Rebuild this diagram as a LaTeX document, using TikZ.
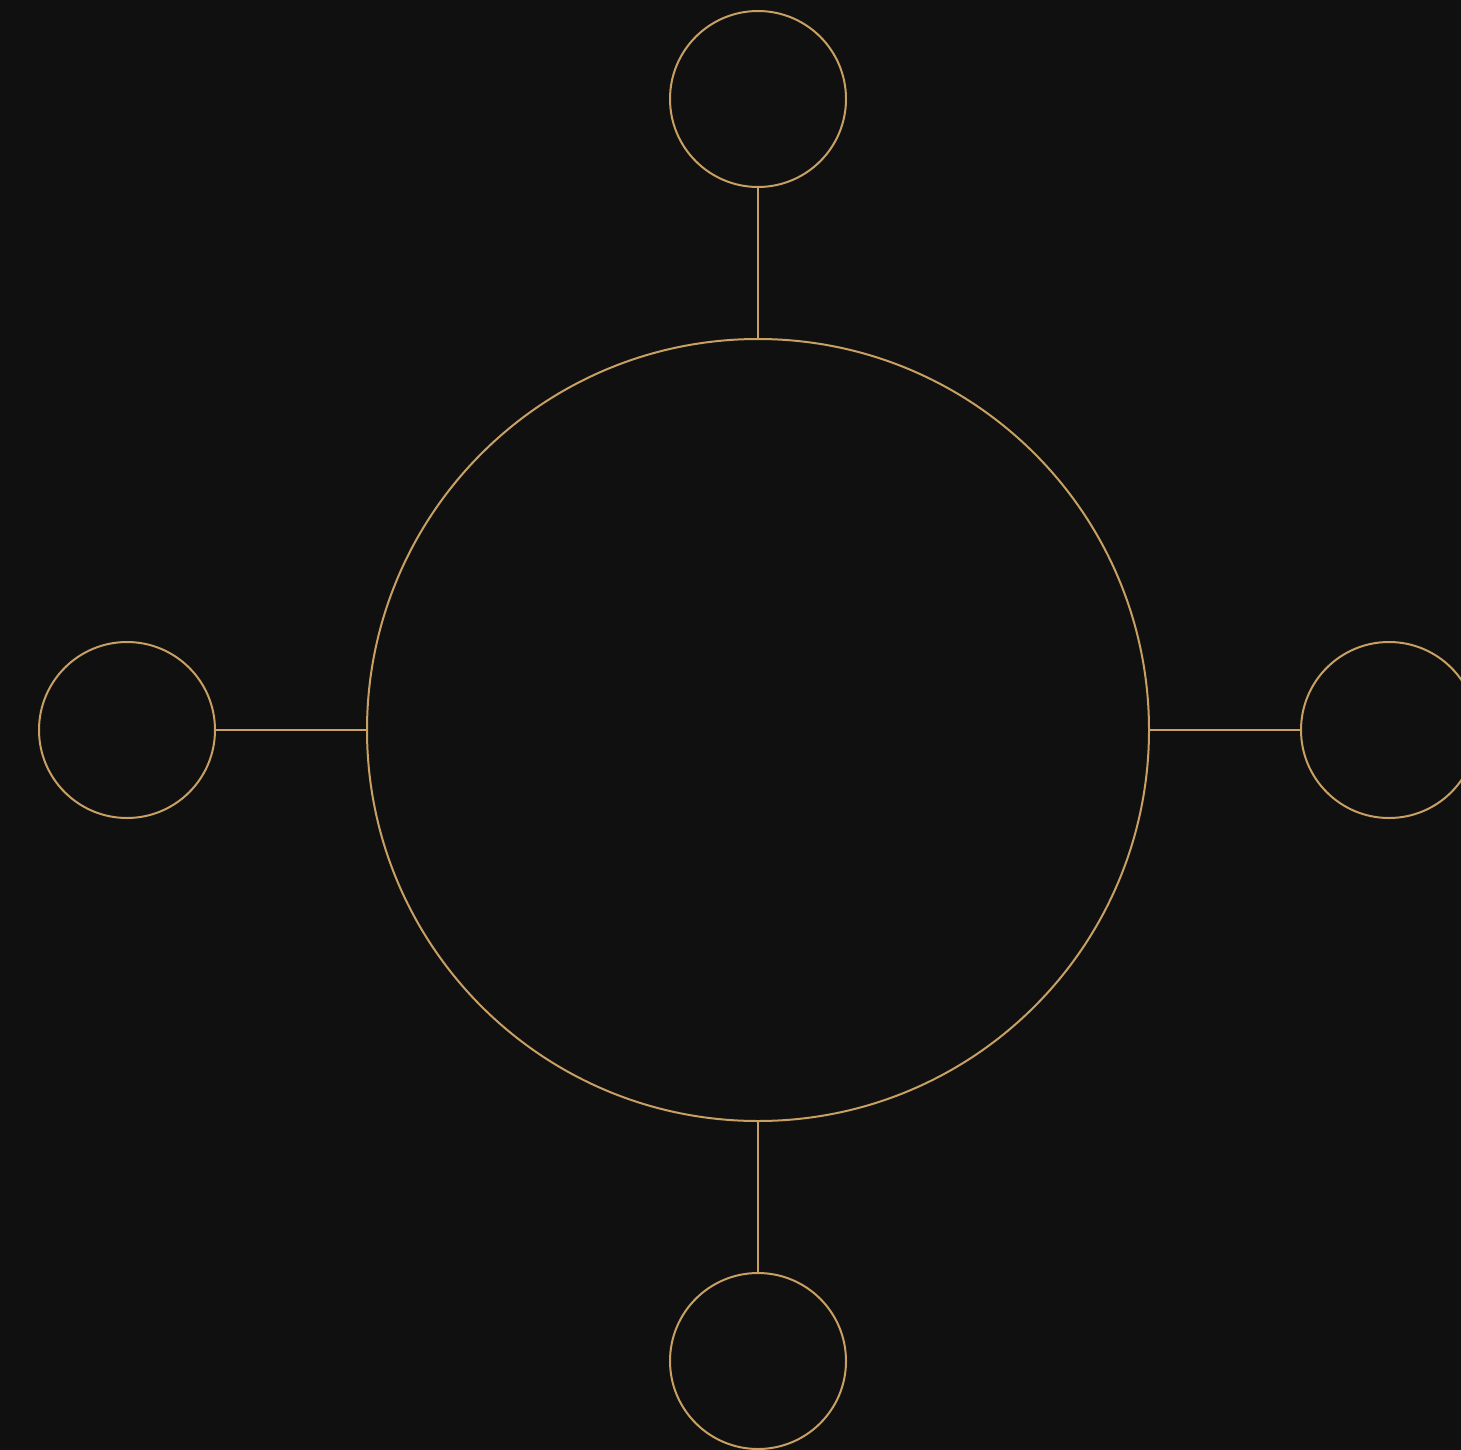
\documentclass[tikz,border=0pt]{standalone}
\begin{document}
\begin{tikzpicture}[x=1pt,y=-1pt,
  ring/.style={circle,draw=gold,line width=2pt,inner sep=0pt,fill=none},
  link/.style={draw=gold,line width=2pt}]
\definecolor{gold}{HTML}{C8A064}
\definecolor{bg}{HTML}{101010}
\fill[bg] (0,0) rectangle (1461,1450);
\useasboundingbox (0,0) rectangle (1461,1450);
\node[ring,minimum size=782pt] (hub) at (758,730) {};
\node[ring,minimum size=176pt] (top) at (758,99) {};
\node[ring,minimum size=176pt] (bot) at (758,1361) {};
\node[ring,minimum size=176pt] (lft) at (127,730) {};
\node[ring,minimum size=176pt] (rgt) at (1389,730) {};
\draw[link] (top) -- (hub);
\draw[link] (bot) -- (hub);
\draw[link] (lft) -- (hub);
\draw[link] (rgt) -- (hub);
\end{tikzpicture}
\end{document}
